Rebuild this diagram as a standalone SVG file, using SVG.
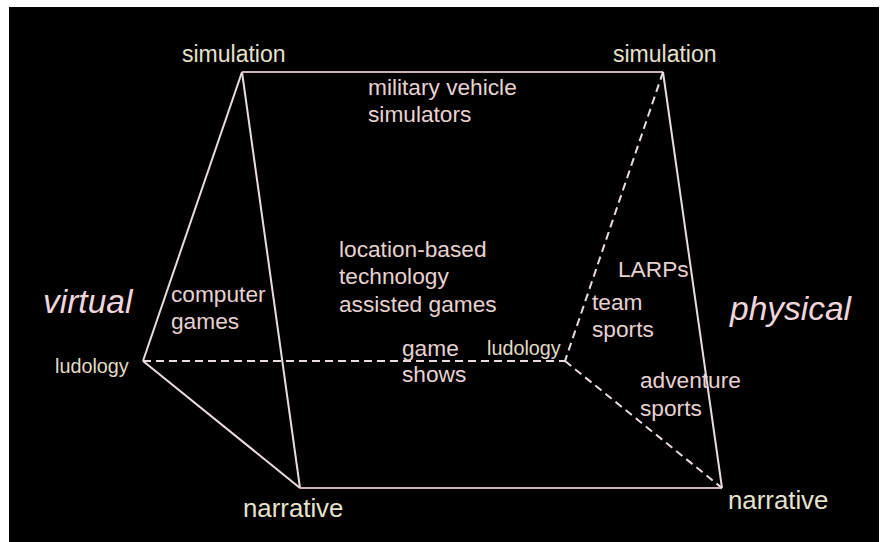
<svg xmlns="http://www.w3.org/2000/svg" width="880" height="542" viewBox="0 0 880 542">
<style>
text{font-family:"Liberation Sans",Arial,sans-serif;}
.corner{fill:#e6e2cc;font-size:23px;}
.big{fill:#e6e2cc;font-size:25.8px;}
.small{fill:#e0dcc4;font-size:19.8px;}
.item{fill:#e8d2d0;font-size:22.7px;}
.world{fill:#f0d6da;font-size:33.5px;font-style:italic;}
.solid{stroke:#eadcdc;stroke-width:2;fill:none;}
.edge{stroke:#cdb2b8;stroke-width:2;fill:none;}
.dash{stroke:#eadcdc;stroke-width:2;fill:none;stroke-dasharray:8 5;}
</style>
<rect x="0" y="0" width="880" height="542" fill="#ffffff"/>
<rect x="9" y="7" width="870" height="535" fill="#000000"/>
<g id="connectors">
<line class="solid" x1="242" y1="72" x2="143" y2="361"/>
<line class="solid" x1="242" y1="72" x2="300" y2="488"/>
<line class="solid" x1="143" y1="361" x2="300" y2="488"/>
<line class="edge" x1="242" y1="72" x2="663" y2="72"/>
<line class="edge" x1="300" y1="488" x2="722" y2="488"/>
<line class="solid" x1="663" y1="72" x2="722" y2="488"/>
<line class="dash" x1="143" y1="361" x2="565" y2="361"/>
<line class="dash" x1="663" y1="72" x2="565" y2="361"/>
<line class="dash" x1="565" y1="361" x2="722" y2="488"/>
</g>
<g id="sim-left"><text class="corner" x="182" y="62">simulation</text></g>
<g id="sim-right"><text class="corner" x="613" y="62">simulation</text></g>
<g id="ludology-left"><text class="small" x="55" y="373">ludology</text></g>
<g id="ludology-right"><text class="small" x="487" y="355">ludology</text></g>
<g id="narrative-left"><text class="big" x="243" y="517">narrative</text></g>
<g id="narrative-right"><text class="big" x="728" y="509">narrative</text></g>
<g id="virtual"><text class="world" x="43" y="313">virtual</text></g>
<g id="physical"><text class="world" x="730" y="320">physical</text></g>
<g id="military"><text class="item" x="368" y="95">military vehicle</text><text class="item" x="368" y="122">simulators</text></g>
<g id="location"><text class="item" x="339" y="257">location-based</text><text class="item" x="339" y="284">technology</text><text class="item" x="339" y="312">assisted games</text></g>
<g id="computer"><text class="item" x="171" y="302">computer</text><text class="item" x="171" y="329">games</text></g>
<g id="gameshows"><text class="item" x="402" y="356">game</text><text class="item" x="402" y="382">shows</text></g>
<g id="larps"><text class="item" x="618" y="277">LARPs</text></g>
<g id="team"><text class="item" x="592" y="310">team</text><text class="item" x="592" y="337">sports</text></g>
<g id="adventure"><text class="item" x="640" y="388">adventure</text><text class="item" x="640" y="416">sports</text></g>
</svg>
